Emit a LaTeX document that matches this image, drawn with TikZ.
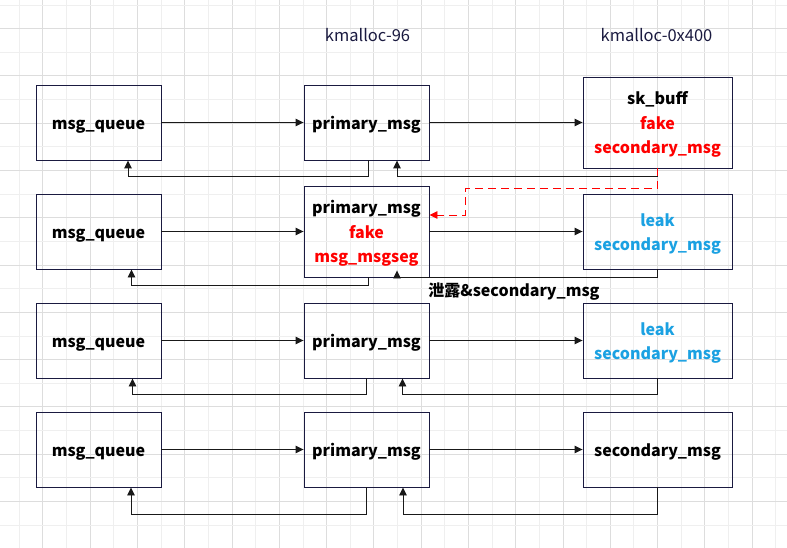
\documentclass[tikz,border=0pt]{standalone}
\usepackage{fontspec}
\setmainfont{Noto Sans CJK SC}
\usetikzlibrary{arrows.meta, positioning}
\definecolor{gridminor}{HTML}{EFEFEF}
\definecolor{gridmajor}{HTML}{DDDDDD}
\definecolor{boxline}{HTML}{1A1A40}
\definecolor{leakblue}{HTML}{1BA1E2}
\newcommand{\linestrut}{\vrule height 19pt depth 5.5pt width 0pt}

\begin{document}
\begin{tikzpicture}[
      x=1pt, y=-1pt,
      >={Triangle[length=8pt,width=7.5pt]},
      obj/.style={draw=boxline, line width=0.9pt, minimum width=125pt, minimum height=75pt, inner sep=0pt, align=center,
        font=\fontsize{16}{24.5}\selectfont\bfseries, execute at begin node=\linestrut, execute at end node=\linestrut},
      wide/.style={obj, minimum width=149pt},
      tall/.style={minimum height=91pt},
      flow/.style={->, line width=0.9pt, draw=black!90},
      fakeptr/.style={->, line width=0.9pt, draw=red, dash pattern=on 8pt off 5pt},
      cache/.style={font=\fontsize{16.5}{18}\selectfont, text=boxline},
      note/.style={font=\fontsize{16}{18}\selectfont\bfseries}
    ]

    \useasboundingbox (0,0) rectangle (787,548);
    \fill[white] (0,0) rectangle (787,548);
    % background grid
    \foreach \i in {0,...,32}{
      \ifodd\i \def\gc{gridmajor}\else \def\gc{gridminor}\fi
      \draw[\gc, line width=0.9pt] (19.3+\i*23.64,0) -- (19.3+\i*23.64,548);
    }
    \foreach \j in {0,...,23}{
      \ifodd\j \def\gc{gridmajor}\else \def\gc{gridminor}\fi
      \draw[\gc, line width=0.9pt] (0,5+\j*23.64) -- (787,5+\j*23.64);
    }

    \node[cache] (kmsmall) at (367.5,35) {kmalloc-96};
    \node[cache] (kmlarge) at (656.5,35) {kmalloc-0x400};

    \node[obj] (q1) at (98.5,122.5) {msg\_queue};
    \node[obj] (p1) at (366.5,122.5) {primary\_msg};
    \node[wide, tall] (s1) at (657.5,122.5) {\linestrut sk\_buff\\\textcolor{red}{fake}\\\textcolor{red}{secondary\_msg}\linestrut};

    \node[obj] (q2) at (98.5,231.5) {msg\_queue};
    \node[obj, tall] (p2) at (366.5,231.5) {\linestrut primary\_msg\\\textcolor{red}{fake}\\\textcolor{red}{msg\_msgseg}\linestrut};
    \node[wide, text=leakblue] (s2) at (657.5,231.5) {\linestrut leak\\secondary\_msg\linestrut};

    \node[obj] (q3) at (98.5,340.5) {msg\_queue};
    \node[obj] (p3) at (366.5,340.5) {primary\_msg};
    \node[wide, text=leakblue] (s3) at (657.5,340.5) {\linestrut leak\\secondary\_msg\linestrut};

    \node[obj] (q4) at (98.5,449.5) {msg\_queue};
    \node[obj] (p4) at (366.5,449.5) {primary\_msg};
    \node[wide] (s4) at (657.5,449.5) {secondary\_msg};

    \node[note] (leaked) at (514,292) {泄露\&secondary\_msg};

    \foreach \r in {1,...,4}{
      \draw[flow] (q\r) -- (p\r);
      \draw[flow] (p\r) -- (s\r);
    }

    % back pointers
    \draw[flow] ([xshift=1.5]p1.south) -- ++(0,16) -| ([xshift=29.5]q1.south);
    \draw[flow] (s1.south) -- ++(0,8) -| ([xshift=30.5]p1.south);
    \draw[flow] ([xshift=1.5]p2.south) -- ++(0,8) -| ([xshift=33]q2.south);
    \draw[flow] (s2.south) -- ++(0,8) -| ([xshift=30.5,yshift=7]p2.south);
    \draw[flow] ([xshift=-0.5]p3.south) -- ++(0,16) -| ([xshift=34]q3.south);
    \draw[flow] (s3.south) -- ++(0,16) -| ([xshift=36]p3.south);
    \draw[flow] ([xshift=-0.5]p4.south) -- ++(0,27) -| ([xshift=32.5]q4.south);
    \draw[flow] (s4.south) -- ++(0,27) -| ([xshift=36.5]p4.south);

    % forged next pointer
    \draw[fakeptr] (s1.south) -- ++(0,20) -| ([xshift=36,yshift=16.5]p2.east) -- ([yshift=16.5]p2.east);

  \end{tikzpicture}
\end{document}
